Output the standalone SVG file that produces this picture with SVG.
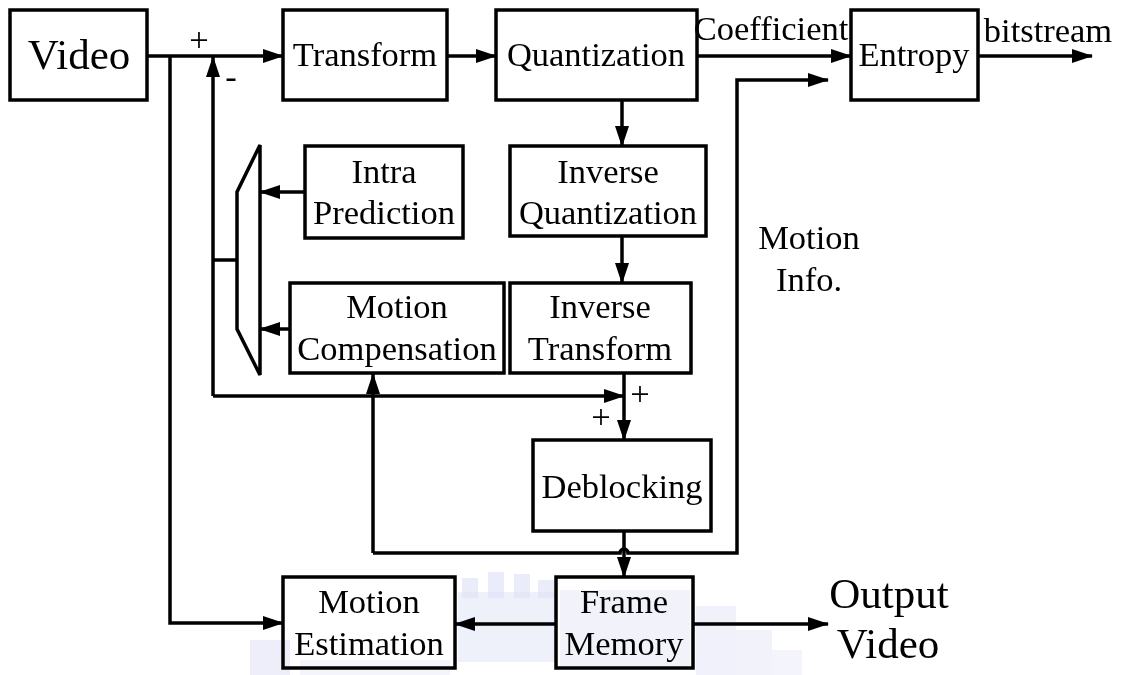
<svg xmlns="http://www.w3.org/2000/svg" width="1121" height="675" viewBox="0 0 1121 675">
  <style>
    .box { fill: none; stroke: #000; stroke-width: 3.5; }
    .wire { fill: none; stroke: #000; stroke-width: 3.5; }
    .lbl { font-family: "Liberation Serif", "Times New Roman", serif; font-size: 34.5px; fill: #000; text-anchor: middle; }
    .big { font-family: "Liberation Serif", "Times New Roman", serif; font-size: 43px; fill: #000; text-anchor: middle; }
    .wm { fill: #c9cdf0; }
  </style>
  <defs>
    <marker id="arr" viewBox="0 0 21 14" refX="20" refY="7" markerWidth="21" markerHeight="14" markerUnits="userSpaceOnUse" orient="auto">
      <path d="M0,0 L21,7 L0,14 Z" fill="#000"/>
    </marker>
  </defs>
  <rect width="1121" height="675" fill="#fff"/>

  <!-- faint background emblem near the bottom -->
  <g id="emblem" opacity="0.55">
    <rect class="wm" x="250" y="640" width="40" height="35" opacity="0.6"/>
    <rect class="wm" x="458" y="592" width="98" height="70" opacity="0.55"/>
    <rect class="wm" x="462" y="578" width="16" height="20" opacity="0.7"/>
    <rect class="wm" x="488" y="572" width="16" height="26" opacity="0.7"/>
    <rect class="wm" x="514" y="574" width="16" height="24" opacity="0.7"/>
    <rect class="wm" x="538" y="580" width="16" height="18" opacity="0.7"/>
    <rect class="wm" x="560" y="590" width="130" height="76" opacity="0.45"/>
    <rect class="wm" x="696" y="606" width="40" height="69" opacity="0.5"/>
    <rect class="wm" x="736" y="630" width="36" height="45" opacity="0.45"/>
    <rect class="wm" x="772" y="650" width="30" height="25" opacity="0.35"/>
    <rect class="wm" x="300" y="660" width="150" height="15" opacity="0.35"/>
  </g>

  <!-- blocks -->
  <g id="video-in"><rect class="box" x="10" y="10" width="137" height="90"/><text class="big" x="79" y="69">Video</text></g>
  <g id="transform"><rect class="box" x="283" y="10" width="164" height="90"/><text class="lbl" x="365" y="66">Transform</text></g>
  <g id="quantization"><rect class="box" x="496" y="10" width="201" height="90"/><text class="lbl" x="596" y="66">Quantization</text></g>
  <g id="entropy"><rect class="box" x="851" y="10" width="127" height="90"/><text class="lbl" x="914" y="66">Entropy</text></g>
  <g id="intra-prediction"><rect class="box" x="305" y="146" width="158" height="92"/><text class="lbl" x="384" y="183">Intra</text><text class="lbl" x="384" y="224">Prediction</text></g>
  <g id="inverse-quantization"><rect class="box" x="510" y="146" width="196" height="90"/><text class="lbl" x="608" y="183">Inverse</text><text class="lbl" x="608" y="224">Quantization</text></g>
  <g id="motion-compensation"><rect class="box" x="290" y="283" width="214" height="90"/><text class="lbl" x="397" y="318">Motion</text><text class="lbl" x="397" y="360">Compensation</text></g>
  <g id="inverse-transform"><rect class="box" x="510" y="283" width="181" height="90"/><text class="lbl" x="600" y="318">Inverse</text><text class="lbl" x="600" y="360">Transform</text></g>
  <g id="deblocking"><rect class="box" x="533" y="440" width="178" height="91"/><text class="lbl" x="622" y="498">Deblocking</text></g>
  <g id="motion-estimation"><rect class="box" x="283" y="577" width="172" height="91"/><text class="lbl" x="369" y="613">Motion</text><text class="lbl" x="369" y="655">Estimation</text></g>
  <g id="frame-memory"><rect class="box" x="556" y="577" width="137" height="91"/><text class="lbl" x="624" y="613">Frame</text><text class="lbl" x="624" y="655">Memory</text></g>
  <g id="selector"><polygon class="box" points="260,145 260,375 237,329 237,192"/></g>

  <!-- connectors -->
  <g id="connectors">
    <path class="wire" d="M147,56 H283" marker-end="url(#arr)"/>
    <path class="wire" d="M170,56 V623 H283" marker-end="url(#arr)"/>
    <path class="wire" d="M447,56 H496" marker-end="url(#arr)"/>
    <path class="wire" d="M697,56 H851" marker-end="url(#arr)"/>
    <path class="wire" d="M978,56 H1092" marker-end="url(#arr)"/>
    <path class="wire" d="M622,100 V146" marker-end="url(#arr)"/>
    <path class="wire" d="M622,236 V283" marker-end="url(#arr)"/>
    <path class="wire" d="M624,373 V440" marker-end="url(#arr)"/>
    <path class="wire" d="M213,396 H624" marker-end="url(#arr)"/>
    <path class="wire" d="M213,396 V57" marker-end="url(#arr)"/>
    <path class="wire" d="M237,260 H213"/>
    <path class="wire" d="M305,192 H260" marker-end="url(#arr)"/>
    <path class="wire" d="M290,329 H260" marker-end="url(#arr)"/>
    <path class="wire" d="M373,553 V374" marker-end="url(#arr)"/>
    <path class="wire" d="M373,553 H620 A4,4 0 0 1 628,553 H737 V80 H828" marker-end="url(#arr)"/>
    <path class="wire" d="M624,531 V577" marker-end="url(#arr)"/>
    <path class="wire" d="M556,624 H455" marker-end="url(#arr)"/>
    <path class="wire" d="M693,624 H828" marker-end="url(#arr)"/>
  </g>

  <!-- signal labels -->
  <g id="labels">
    <text class="lbl" x="771" y="40">Coefficient</text>
    <text class="lbl" x="1048" y="42">bitstream</text>
    <text class="lbl" x="809" y="249">Motion</text>
    <text class="lbl" x="809" y="291">Info.</text>
    <text class="big" x="889" y="608">Output</text>
    <text class="big" x="888" y="658">Video</text>
    <text class="lbl" x="199" y="51">+</text>
    <text class="lbl" x="231" y="88">-</text>
    <text class="lbl" x="640" y="405">+</text>
    <text class="lbl" x="601" y="428">+</text>
  </g>
</svg>
